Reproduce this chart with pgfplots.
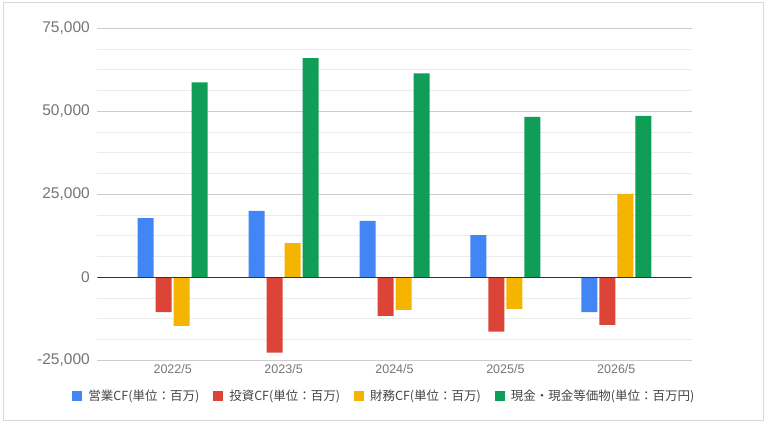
\documentclass[border=0pt]{standalone}
\usepackage{pgfplots}
\pgfplotsset{compat=1.18}
\usepackage{fontspec}
\setmainfont{Liberation Sans}
\newfontfamily\cjk{Noto Sans CJK JP}
\definecolor{cfblue}{HTML}{4285F4}
\definecolor{cfred}{HTML}{DB4437}
\definecolor{cfyellow}{HTML}{F4B400}
\definecolor{cfgreen}{HTML}{0F9D58}
\definecolor{ticktxt}{HTML}{757575}
\definecolor{legtxt}{HTML}{444444}
\begin{document}
\begin{tikzpicture}
\useasboundingbox (0,0) rectangle (767bp,427bp);
\draw[draw={rgb,255:red,217;green,217;blue,217}, line width=1bp] (3.5bp,6bp) rectangle (763bp,424.5bp);
\begin{axis}[
  at={(97.3bp,66.7bp)}, anchor=south west,
  scale only axis, width=594.4bp, height=332bp,
  xmin=-0.68, xmax=4.68,
  ymin=-25000, ymax=75000,
  ytick={-25000,0,25000,50000,75000},
  scaled y ticks=false,
  minor y tick num=3,
  xtick={0,1,2,3,4},
  xticklabels={2022/5,2023/5,2024/5,2025/5,2026/5},
  axis line style={draw=none},
  major tick length=0pt, minor tick length=0pt,
  ymajorgrids, yminorgrids,
  major grid style={draw={rgb,255:red,204;green,204;blue,204}, line width=0.8bp},
  minor grid style={draw={rgb,255:red,235;green,235;blue,235}, line width=0.8bp},
  yticklabel style={font=\fontsize{15.5bp}{18bp}\selectfont, text=ticktxt, xshift=-4bp},
  xticklabel style={font=\fontsize{12.5bp}{15bp}\selectfont, text=ticktxt, yshift=-1bp},
  yticklabel={\pgfmathprintnumber[fixed,precision=0,1000 sep={,},assume math mode=true]{\tick}},
  ybar=2bp, bar width=16bp,
  legend columns=4,
  legend style={at={(0.483,-0.1075)}, anchor=center, draw=none, fill=none,
    font=\cjk\fontsize{12.5bp}{15bp}\selectfont, text=legtxt,
    /tikz/every odd column/.append style={column sep=4bp},
    /tikz/every even column/.append style={column sep=12bp},
    inner sep=0pt},
  legend image code/.code={\draw[#1,draw=none] (0bp,-5bp) rectangle (10bp,5bp);},
]
\addplot[fill=cfblue, draw=none] coordinates {(0,17800) (1,20000) (2,17000) (3,12700) (4,-10500)};
\addlegendentry{営業CF(単位：百万)}
\addplot[fill=cfred, draw=none] coordinates {(0,-10500) (1,-22700) (2,-11600) (3,-16400) (4,-14300)};
\addlegendentry{投資CF(単位：百万)}
\addplot[fill=cfyellow, draw=none] coordinates {(0,-14600) (1,10300) (2,-9800) (3,-9500) (4,25100)};
\addlegendentry{財務CF(単位：百万)}
\addplot[fill=cfgreen, draw=none] coordinates {(0,58700) (1,66000) (2,61400) (3,48300) (4,48600)};
\addlegendentry{現金・現金等価物(単位：百万円)}
\draw[draw={rgb,255:red,51;green,51;blue,51}, line width=1bp] (axis cs:-0.68,0) -- (axis cs:4.68,0);
\end{axis}
\end{tikzpicture}
\end{document}
